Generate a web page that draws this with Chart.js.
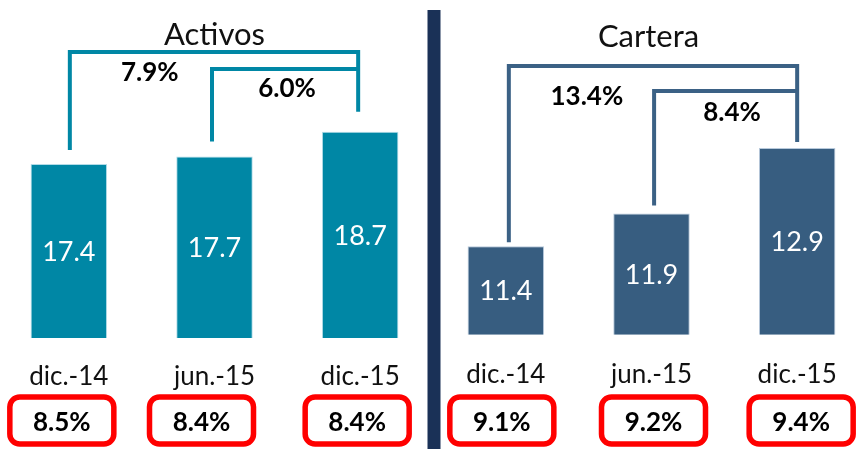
<!DOCTYPE html>
<html><head><meta charset="utf-8">
<script src="https://cdn.jsdelivr.net/npm/chart.js@4"></script>
<style>
html,body{margin:0;padding:0;background:#fff;overflow:hidden;width:856px;height:449px;}
#wrap{position:absolute;left:-4px;top:0;width:874px;height:449px;}
</style></head><body>
<div id="wrap"><canvas id="c" width="874" height="449"></canvas></div>
<script>
// ---- data ----
const categories = ['dic.-14', 'jun.-15', 'dic.-15', 'dic.-14', 'jun.-15', 'dic.-15'];
const panelTitles = ['Activos', 'Cartera'];
const activosValues = [17.4, 17.7, 18.7];
const carteraValues = [11.4, 11.9, 12.9];
const ratioLabels = ['8.5%', '8.4%', '8.4%', '9.1%', '9.2%', '9.4%'];
const growthLabels = ['7.9%', '6.0%', '13.4%', '8.4%'];

const activosData = activosValues.concat([null, null, null]);
const carteraData = [null, null, null].concat(carteraValues);

const FONT = 'Lato, "Open Sans", sans-serif';
const TEAL = '#0087A5';
const NAVY = '#375D80';

const overlay = {
  id: 'overlay',
  afterDatasetsDraw(chart, args, o) {
    const ctx = chart.ctx;
    const xs = chart.scales.x;
    const cx = i => xs.getPixelForValue(i);
    const valueOf = i => (i < 3 ? activosData[i] : carteraData[i]);
    const scaleOf = i => (i < 3 ? chart.scales.yA : chart.scales.yC);
    const barTop = i => scaleOf(i).getPixelForValue(valueOf(i));
    const barBase = i => scaleOf(i).getPixelForValue(chart.data.datasets[i < 3 ? 0 : 1].base);
    ctx.save();
    // separator
    const sepX = (cx(2) + cx(3)) / 2 + 1;
    ctx.fillStyle = '#1A3157';
    ctx.fillRect(sepX - 6.5, 10, 13, 449);

    // value labels inside bars
    ctx.fillStyle = '#ffffff';
    ctx.font = '27px ' + FONT;
    ctx.textAlign = 'center';
    ctx.textBaseline = 'middle';
    categories.forEach((c, i) => {
      const v = valueOf(i);
      if (v == null) return;
      ctx.fillText(v.toFixed(1), cx(i), (barTop(i) + barBase(i)) / 2 + 1);
    });

    // titles
    ctx.fillStyle = '#111';
    ctx.font = '31px ' + FONT;
    ctx.fillText(panelTitles[0], cx(1), 35);
    ctx.fillText(panelTitles[1], cx(4) - 3, 37);

    // brackets
    ctx.lineWidth = 4;
    ctx.lineCap = 'butt';
    ctx.lineJoin = 'miter';
    o.brackets.forEach((b, k) => {
      const lx = cx(b.from) + b.dxFrom, rx = cx(b.to) + b.dxTo;
      ctx.strokeStyle = b.color;
      ctx.beginPath();
      ctx.moveTo(lx, barTop(b.from) - b.gapFrom);
      ctx.lineTo(lx, b.top);
      ctx.lineTo(rx, b.top);
      if (!b.inner) ctx.lineTo(rx, barTop(b.to) - b.gapTo);
      ctx.stroke();
      ctx.fillStyle = '#000';
      ctx.font = 'bold 26px ' + FONT;
      ctx.textBaseline = 'middle';
      ctx.fillText(growthLabels[k], cx(b.from) + b.lx, b.ly);
    });

    // category labels
    ctx.fillStyle = '#111';
    ctx.font = '26px ' + FONT;
    ctx.textBaseline = 'alphabetic';
    categories.forEach((c, i) => ctx.fillText(c, cx(i), i < 3 ? 385 : 383));

    // red ratio boxes
    ratioLabels.forEach((t, i) => {
      const bx = cx(i) + o.boxDx[i];
      const w = 104, top = 397, h = 47;
      ctx.strokeStyle = '#FF0000';
      ctx.lineWidth = 5.5;
      ctx.beginPath();
      ctx.roundRect(bx - w / 2, top, w, h, 10);
      ctx.stroke();
      ctx.fillStyle = '#000';
      ctx.font = 'bold 26px ' + FONT;
      ctx.textBaseline = 'middle';
      ctx.fillText(t, bx, 423);
    });
    ctx.restore();
  }
};

new Chart(document.getElementById('c'), {
  type: 'bar',
  data: {
    labels: categories,
    datasets: [
      { data: activosData, yAxisID: 'yA', backgroundColor: TEAL, borderColor: 'rgba(170,215,228,0.9)',
        borderWidth: 1, grouped: false, barPercentage: 0.525, categoryPercentage: 1, base: 10.4 },
      { data: carteraData, yAxisID: 'yC', backgroundColor: NAVY, borderColor: 'rgba(175,195,215,0.9)',
        borderWidth: 1, grouped: false, barPercentage: 0.525, categoryPercentage: 1, base: 10.05 }
    ]
  },
  options: {
    responsive: false,
    animation: false,
    events: [],
    layout: { padding: { top: 0, bottom: 111, left: 0, right: 0 } },
    plugins: {
      legend: { display: false },
      tooltip: { enabled: false },
      overlay: {
        boxDx: [-7, -13, -3, -4, 2, 4],
        brackets: [
          { from: 0, to: 2, dxFrom: 1, dxTo: -2, top: 52, gapFrom: 14, gapTo: 20, lx: 81, ly: 73, color: TEAL },
          { from: 1, to: 2, dxFrom: -2.5, dxTo: -2, top: 69, gapFrom: 15, inner: true, lx: 72.5, ly: 89, color: TEAL },
          { from: 3, to: 5, dxFrom: 3, dxTo: 0, top: 66, gapFrom: 4, gapTo: 6, lx: 81, ly: 97, color: '#3B6185' },
          { from: 4, to: 5, dxFrom: 2.6, dxTo: 0, top: 91, gapFrom: 8, inner: true, lx: 80.5, ly: 113, color: '#3B6185' }
        ]
      }
    },
    scales: {
      x: { display: false, offset: true },
      yA: { display: false, min: 10.4, max: 24 },
      yC: { display: false, min: 10, max: 15.16 }
    }
  },
  plugins: [overlay]
});
</script>
</body></html>
